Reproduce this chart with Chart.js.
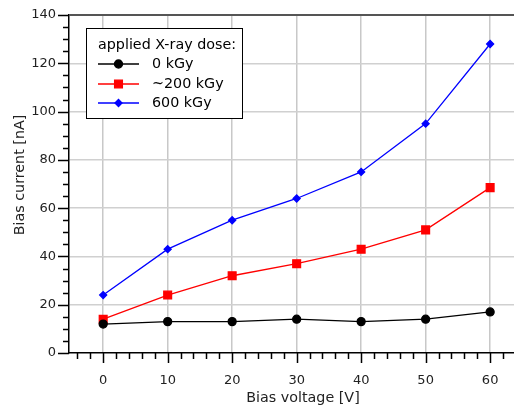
<!DOCTYPE html>
<html lang="en">
<head>
<meta charset="UTF-8" />
<title>Bias current vs bias voltage</title>
<script src="https://cdn.jsdelivr.net/npm/chart.js"></script>
<style>
  html, body { margin: 0; padding: 0; background: #fff; }
  #wrap { width: 514px; height: 412px; }
</style>
</head>
<body>
<div id="wrap"><canvas id="ivChart" width="514" height="412"></canvas></div>
<script>
const voltages = [0, 10, 20, 30, 40, 50, 60];
const doseLabels = ['0 kGy', '~200 kGy', '600 kGy'];
const current0 = [12, 13, 13, 14, 13, 14, 17];
const current200 = [14, 24, 32, 37, 43, 51, 68.5];
const current600 = [24, 43, 55, 64, 75, 95, 128];
const legendTitle = 'applied X-ray dose:';

const FONT = '"DejaVu Sans", Verdana, sans-serif';

function points(ys) {
  return voltages.map((v, i) => ({ x: v, y: ys[i] }));
}

// outward tick marks (major + minor), top frame line and the boxed legend
const decorations = {
  id: 'decorations',
  afterDraw(chart) {
    const ctx = chart.ctx;
    const area = chart.chartArea;
    const xs = chart.scales.x, ys = chart.scales.y;
    ctx.save();
    ctx.strokeStyle = '#000';
    ctx.lineWidth = 1.5;
    ctx.beginPath();
    for (let v = Math.ceil(xs.min / 2) * 2; v <= xs.max; v += 2) {
      const px = Math.round(xs.getPixelForValue(v)) + 0.5;
      const len = v % 10 === 0 ? 10 : 6;
      ctx.moveTo(px, area.bottom);
      ctx.lineTo(px, area.bottom + len);
    }
    for (let v = 0; v <= ys.max; v += 5) {
      const py = Math.round(ys.getPixelForValue(v)) + 0.5;
      const len = v % 20 === 0 ? 11 : 6;
      ctx.moveTo(area.left, py);
      ctx.lineTo(area.left - len, py);
    }
    ctx.stroke();

    // top frame
    ctx.strokeStyle = '#555';
    ctx.lineWidth = 2;
    ctx.beginPath();
    ctx.moveTo(area.left, area.top);
    ctx.lineTo(area.right, area.top);
    ctx.stroke();

    // legend box
    const bx = 86, by = 28, bw = 156, bh = 90;
    ctx.fillStyle = '#fff';
    ctx.fillRect(bx, by, bw, bh);
    ctx.strokeStyle = '#000';
    ctx.lineWidth = 1;
    ctx.strokeRect(bx + 0.5, by + 0.5, bw, bh);

    ctx.font = '14.3px ' + FONT;
    ctx.fillStyle = '#000';
    ctx.textBaseline = 'middle';
    ctx.textAlign = 'left';
    ctx.fillText(legendTitle, 98, 45);

    const rows = [64, 84, 103];
    chart.data.datasets.forEach((ds, i) => {
      const y = rows[i];
      ctx.strokeStyle = ds.borderColor;
      ctx.lineWidth = ds.borderWidth;
      ctx.beginPath();
      ctx.moveTo(98, y);
      ctx.lineTo(139, y);
      ctx.stroke();
      ctx.fillStyle = ds.pointBackgroundColor;
      ctx.strokeStyle = ds.pointBorderColor;
      Chart.helpers.drawPoint(ctx, {
        pointStyle: ds.pointStyle,
        radius: ds.pointRadius,
        rotation: 0,
        borderWidth: 1
      }, 118.5, y);
      ctx.fillStyle = '#000';
      ctx.fillText(ds.label, 152, y);
    });

    // axis titles
    ctx.fillStyle = '#222';
    ctx.textAlign = 'center';
    ctx.fillText('Bias voltage [V]', 303, 398);
    ctx.translate(20, 175);
    ctx.rotate(-Math.PI / 2);
    ctx.fillText('Bias current [nA]', 0, 0);
    ctx.restore();
  }
};

const seriesStyle = [
  { color: '#000000', style: 'circle', radius: 4 },
  { color: '#ff0000', style: 'rect', radius: 5.5 },
  { color: '#0000ff', style: 'rectRot', radius: 3.5 }
];

const seriesData = [current0, current200, current600];

new Chart(document.getElementById('ivChart'), {
  type: 'line',
  data: {
    datasets: seriesData.map((ys, i) => ({
      label: doseLabels[i],
      data: points(ys),
      borderColor: seriesStyle[i].color,
      backgroundColor: seriesStyle[i].color,
      pointBackgroundColor: seriesStyle[i].color,
      pointBorderColor: seriesStyle[i].color,
      pointStyle: seriesStyle[i].style,
      pointRadius: seriesStyle[i].radius,
      borderWidth: 1.3,
      tension: 0,
      clip: false
    }))
  },
  options: {
    responsive: false,
    animation: false,
    layout: { autoPadding: false, padding: { top: 15, right: 0, bottom: 0, left: 0 } },
    plugins: {
      legend: { display: false },
      tooltip: { enabled: false }
    },
    scales: {
      x: {
        type: 'linear',
        min: -5.3,
        max: 63.7,
        afterFit(scale) {
          scale.height = 59;
          scale.paddingLeft = 0;
          scale.paddingRight = 0;
        },
        ticks: {
          stepSize: 2,
          autoSkip: false,
          maxRotation: 0,
          padding: 20,
          color: '#222',
          font: { family: FONT, size: 13 },
          callback: v => (v % 10 === 0 ? String(v) : '')
        },
        grid: {
          drawTicks: false,
          lineWidth: 1.5,
          color: ctx => (ctx.tick && ctx.tick.value % 10 === 0 ? '#c8c8c8' : 'rgba(0,0,0,0)')
        },
        border: { color: '#000', width: 1.5 }
      },
      y: {
        min: 0,
        max: 140,
        afterFit(scale) {
          scale.width = 69;
          scale.paddingTop = 0;
          scale.paddingBottom = 0;
        },
        ticks: {
          stepSize: 5,
          autoSkip: false,
          padding: 13,
          color: '#222',
          font: { family: FONT, size: 13 },
          callback: v => (v % 20 === 0 ? String(v) : '')
        },
        grid: {
          drawTicks: false,
          lineWidth: 1.5,
          color: ctx => (ctx.tick && ctx.tick.value % 20 === 0 && ctx.tick.value > 0 ? '#d0d0d0' : 'rgba(0,0,0,0)')
        },
        border: { color: '#000', width: 1.5 }
      }
    }
  },
  plugins: [decorations]
});
</script>
</body>
</html>
